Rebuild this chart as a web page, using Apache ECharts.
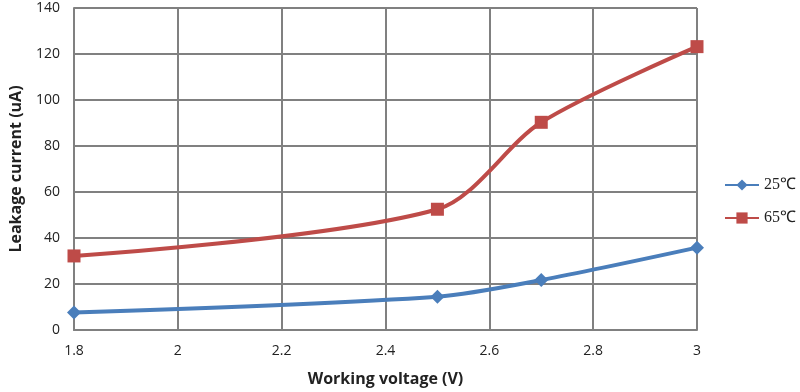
<!DOCTYPE html>
<html><head><meta charset="utf-8">
<script src="https://cdn.jsdelivr.net/npm/echarts@6/dist/echarts.min.js"></script>
<style>html,body{margin:0;padding:0;background:#fff}#c{width:800px;height:392px}</style>
</head><body><div id="c"></div>
<script>
const voltages = [1.8, 2.5, 2.7, 3.0];
const current25 = [7.6, 14.5, 21.7, 35.8];
const current65 = [32.2, 52.5, 90.3, 123.2];
const seriesNames = ['25℃', '65℃'];
const xTitle = 'Working voltage (V)';
const yTitle = 'Leakage current (uA)';

const chart = echarts.init(document.getElementById('c'), null, {renderer: 'canvas'});
const font = 'Open Sans';
chart.setOption({
  animation: false,
  grid: {left: 70, right: 103, top: 8, bottom: 62},
  legend: {
    orient: 'vertical', left: 724, top: 177, itemGap: 17, padding: 0,
    itemWidth: 34, itemHeight: 14,
    textStyle: {fontFamily: 'Liberation Serif', fontSize: 16, color: '#222'},
    data: seriesNames
  },
  xAxis: {
    type: 'value', min: 1.8, max: 3.0, interval: 0.2,
    name: xTitle, nameLocation: 'middle', nameGap: 41,
    nameTextStyle: {fontFamily: font, fontSize: 16, fontWeight: 'bold', color: '#222'},
    axisLine: {show: true, lineStyle: {color: '#808080', width: 2}},
    axisTick: {show: false},
    axisLabel: {fontFamily: font, fontSize: 14, color: '#222', margin: 14,
      formatter: v => (Math.round(v*10)/10).toString()},
    splitLine: {show: true, lineStyle: {color: '#808080', width: 2}}
  },
  yAxis: {
    type: 'value', min: 0, max: 140, interval: 20,
    name: yTitle, nameLocation: 'middle', nameGap: 50, nameRotate: 90,
    nameTextStyle: {fontFamily: font, fontSize: 16, fontWeight: 'bold', color: '#222'},
    axisLine: {show: true, lineStyle: {color: '#808080', width: 2}},
    axisTick: {show: false},
    axisLabel: {fontFamily: font, fontSize: 14, color: '#222', margin: 14},
    splitLine: {show: true, lineStyle: {color: '#808080', width: 2}}
  },
  series: [
    {
      name: seriesNames[0], type: 'line', smooth: 0.3,
      data: voltages.map((v, i) => [v, current25[i]]),
      symbol: 'diamond', symbolSize: 14,
      lineStyle: {color: '#4a7ebb', width: 4},
      itemStyle: {color: '#4a7ebb'}
    },
    {
      name: seriesNames[1], type: 'line', smooth: 0.3,
      data: voltages.map((v, i) => [v, current65[i]]),
      symbol: 'rect', symbolSize: 13,
      lineStyle: {color: '#be4b48', width: 4},
      itemStyle: {color: '#be4b48'}
    }
  ]
});
</script></body></html>
